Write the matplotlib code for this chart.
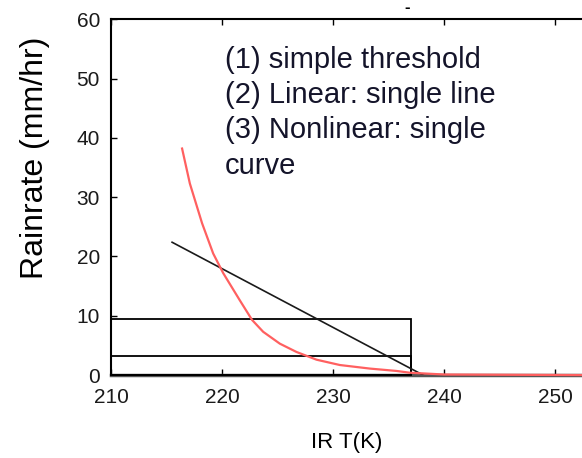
import matplotlib
matplotlib.use("Agg")
import matplotlib.pyplot as plt
import matplotlib.patches as mpatches

plt.rcParams['font.family'] = ['Liberation Sans', 'DejaVu Sans']

# data
x_ticks = [210, 220, 230, 240, 250]
y_ticks = [0, 10, 20, 30, 40, 50, 60]

# (1) simple threshold boxes: (x0, x1, rain)
thresh_x0 = 210
thresh_x1 = 237
thresh_levels = [9.5, 3.2]

# (2) linear fit, end points
lin_x = [215.5, 238.1]
lin_y = [22.4, 0.0]

# (3) nonlinear curve
curve_x = [216.4, 217.1, 218.2, 219.2, 220.1, 221.6, 222.7, 223.7,
           225.2, 226.7, 228.5, 230.6, 233.3, 235.7, 236.9, 240.0, 253.0]
curve_y = [38.2, 32.3, 25.6, 20.5, 17.2, 12.6, 9.3, 7.3,
           5.3, 3.9, 2.6, 1.7, 1.1, 0.7, 0.4, 0.1, 0.0]

notes = "(1) simple threshold\n(2) Linear: single line\n(3) Nonlinear: single\ncurve"

fig = plt.figure(figsize=(5.82, 4.58), dpi=100)
ax = fig.add_axes([0.1907, 0.181, 0.8093, 0.777])

for lev in thresh_levels:
    ax.add_patch(mpatches.Rectangle((thresh_x0, 0), thresh_x1 - thresh_x0, lev,
                                    fill=False, edgecolor='black', lw=1.3,
                                    clip_on=False, zorder=3))

ax.plot(lin_x, lin_y, color='#1a1a1a', lw=1.2, zorder=4)
ax.plot(curve_x, curve_y, color='#ff6060', lw=1.6, zorder=5, clip_on=False,
        solid_joinstyle='round')

ax.set_xlim(210, 252.4)
ax.set_ylim(0, 60)
ax.set_xticks(x_ticks)
ax.set_yticks(y_ticks)

ax.tick_params(direction='in', length=4, width=1, labelsize=15,
               labelcolor='#1a1a1a', top=True, right=False)
ax.tick_params(axis='y', pad=8)
ax.tick_params(axis='x', pad=9)

ax.spines['right'].set_visible(False)
ax.spines['top'].set_linewidth(1.5)
ax.spines['left'].set_linewidth(1.5)
ax.spines['bottom'].set_linewidth(2.5)
ax.spines['bottom'].set_color('#555555')

ax.set_ylabel('Rainrate (mm/hr)', fontsize=23, va='center', ha='center')
ax.yaxis.set_label_coords(-0.161, 0.61)
ax.set_xlabel('IR T(K)', fontsize=16, va='center', ha='center')
ax.xaxis.set_label_coords(0.5, -0.19)

ax.text(0.242, 0.925, notes, transform=ax.transAxes, fontsize=21,
        va='top', ha='left', color='#14142a', linespacing=1.33)

# stray dash above the frame
ax.text(236.7, 62.0, '-', fontsize=12, fontweight='bold',
        ha='center', va='center', clip_on=False)

fig.savefig('out.png', dpi=100)
